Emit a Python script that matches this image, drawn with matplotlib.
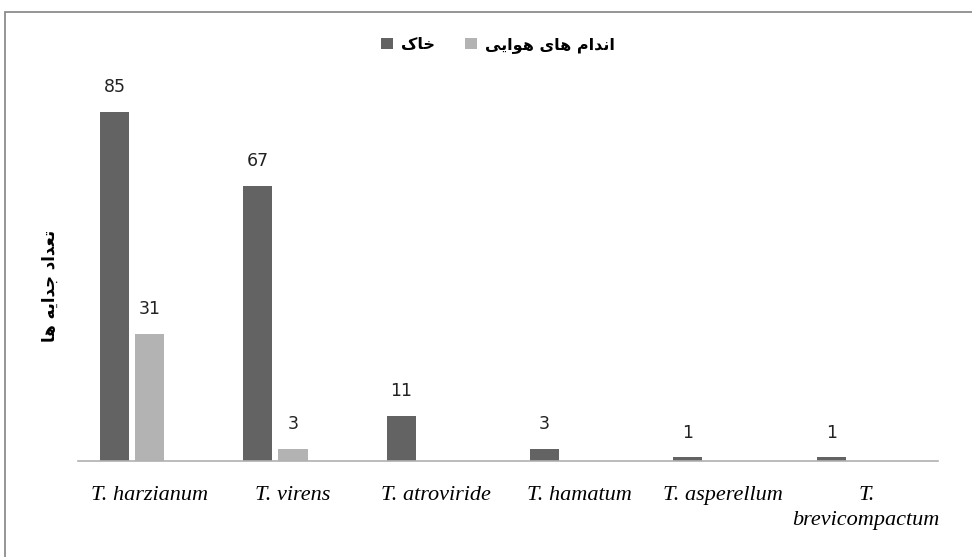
import matplotlib.pyplot as plt
import numpy as np
from matplotlib.patches import Rectangle

# data
species = ["T. harzianum", "T. virens", "T. atroviride", "T. hamatum",
           "T. asperellum", "T.\nbrevicompactum"]
soil = [85, 67, 11, 3, 1, 1]
aerial = [31, 3, 0, 0, 0, 0]

# Persian text, pre-shaped (presentation forms, visual order)
soil_label = "\uFB8E\uFE8E\uFEA7"                       # خاک
aerial_label = ("\uFBFD\uFBFE\uFE8D\uFEEE\uFEEB" + " "  # هوایی
                + "\uFBFC\uFE8E\uFEEB" + " "            # های
                + "\uFEE1\uFE8D\uFEAA\uFEE7\uFE8D")      # اندام
ylabel = ("\uFE8E\uFEEB" + " "                          # ها
          + "\uFEEA\uFBFE\uFE8D\uFEAA\uFE9F" + " "      # جدایه
          + "\uFEA9\uFE8D\uFEAA\uFECC\uFE97")           # تعداد

dark = "#636363"
light = "#b3b3b3"

fig = plt.figure(figsize=(9.72, 5.57), dpi=100)
ax = fig.add_axes([78 / 972, 96 / 557, 860 / 972, 370 / 557])

x = np.arange(len(species))
w = 0.203
b1 = ax.bar(x - 0.245, soil, w, color=dark, label=soil_label)
b2 = ax.bar(x + 0.0, aerial, w, color=light, label=aerial_label)

for bars, vals in ((b1, soil), (b2, aerial)):
    for rect, v in zip(bars, vals):
        if v == 0:
            continue
        ax.annotate(str(v), (rect.get_x() + rect.get_width() / 2, v),
                    xytext=(0, 11), textcoords="offset points",
                    ha="center", va="bottom", fontsize=12.5,
                    family="DejaVu Sans", color="#222222")

ax.set_xlim(-0.5, len(species) - 0.5)
ax.set_ylim(0, 90)
ax.set_xticks(x)
ax.set_xticklabels(species, family="Liberation Serif", style="italic",
                   fontsize=16, linespacing=1.4)
ax.tick_params(axis="x", length=0, pad=18)
ax.set_yticks([])
for s in ("top", "right", "left"):
    ax.spines[s].set_visible(False)
ax.spines["bottom"].set_color("#b0b0b0")
ax.spines["bottom"].set_linewidth(1.2)

fig.text(50 / 972, 1 - 286 / 557, ylabel, rotation=90, ha="center",
         va="center", fontsize=12, fontweight="bold", family="DejaVu Sans")

ax.legend(ncol=2, loc="center", bbox_to_anchor=(498 / 972, 1 - 45 / 557),
          bbox_transform=fig.transFigure, frameon=False, handlelength=0.75,
          handleheight=0.75, handletextpad=0.5, columnspacing=1.9,
          prop={"family": "DejaVu Sans", "weight": "bold", "size": 11.5})

# chart area border (only top and left visible in the crop)
fig.patches.append(Rectangle((5 / 972, -0.1), 1.2, 1 - 12 / 557 + 0.1,
                             transform=fig.transFigure, fill=False,
                             edgecolor="#8c8c8c", linewidth=1.3))

fig.savefig("out.png", dpi=100)
